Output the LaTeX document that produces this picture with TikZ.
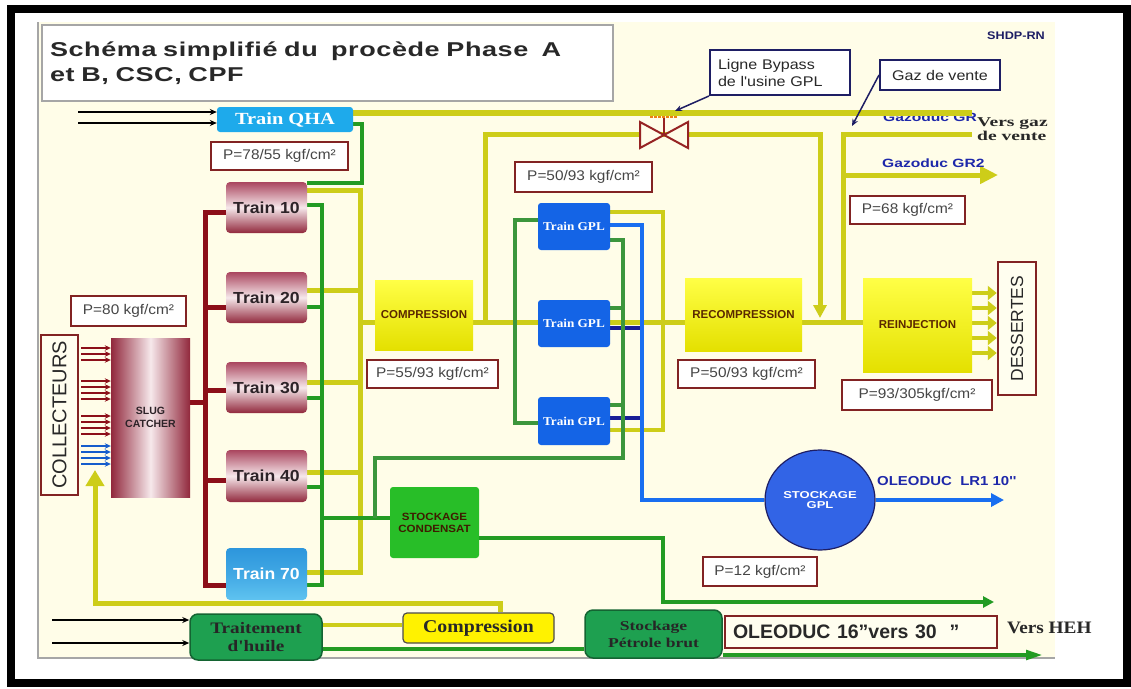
\documentclass[tikz,border=0pt]{standalone}
\usepackage{fontspec}
\setmainfont{Liberation Serif}
\setsansfont{Liberation Sans}
\newfontfamily\fTitle[FakeStretch=1.35,LetterSpace=3]{Liberation Sans}
\newfontfamily\fSansA[FakeStretch=1.1]{Liberation Sans}
\newfontfamily\fSansB[FakeStretch=1.15]{Liberation Sans}
\newfontfamily\fSansC[FakeStretch=1.3]{Liberation Sans}
\newfontfamily\fSerA[FakeStretch=1.1]{Liberation Serif}
\newfontfamily\fSerB[FakeStretch=1.2]{Liberation Serif}
\newfontfamily\fSerC[FakeStretch=1.3]{Liberation Serif}
\newfontfamily\fSerD[FakeStretch=1.45]{Liberation Serif}
\usetikzlibrary{arrows.meta,shapes.geometric}
\definecolor{cream}{RGB}{255,253,232}
\definecolor{yel}{RGB}{205,205,25}
\definecolor{grn}{RGB}{35,155,35}
\definecolor{grn2}{RGB}{60,150,60}
\definecolor{mar}{RGB}{140,15,25}
\definecolor{blu}{RGB}{25,110,240}
\definecolor{navy}{RGB}{25,30,150}
\definecolor{navytxt}{RGB}{30,40,170}
\definecolor{pbord}{RGB}{130,35,35}
\definecolor{ptext}{RGB}{70,70,70}
\definecolor{trtop}{RGB}{170,70,95}
\definecolor{trmid}{RGB}{246,232,235}
\definecolor{trbot}{RGB}{145,40,60}
\definecolor{trtext}{RGB}{45,35,40}
\definecolor{qhablue}{RGB}{30,170,235}
\definecolor{t70top}{RGB}{45,150,220}
\definecolor{t70bot}{RGB}{95,195,240}
\definecolor{ybtop}{RGB}{255,255,70}
\definecolor{ybbot}{RGB}{228,224,0}
\definecolor{ytxt}{RGB}{90,40,0}
\definecolor{gplblue}{RGB}{20,100,230}
\definecolor{condgrn}{RGB}{40,190,40}
\definecolor{oilgrn}{RGB}{30,160,80}
\definecolor{oilbord}{RGB}{20,100,50}
\definecolor{circblue}{RGB}{50,100,230}
\definecolor{valvec}{RGB}{150,35,35}
\definecolor{lblbord}{RGB}{30,30,100}
\definecolor{darktxt}{RGB}{40,40,40}
\pgfdeclarelayer{back}
\pgfdeclarelayer{lines}
\pgfsetlayers{back,lines,main}
\begin{document}
\begin{tikzpicture}[x=1pt,y=-1pt,
  yline/.style={draw=yel,line width=5pt},
  yline4/.style={draw=yel,line width=4pt},
  gline/.style={draw=grn,line width=4pt},
  gline2/.style={draw=grn2,line width=4pt},
  mline/.style={draw=mar,line width=5pt},
  bline/.style={draw=blu,line width=4pt},
  nline/.style={draw=navy,line width=4pt},
  blkarrow/.style={draw=black,line width=2.5pt,-{Stealth[length=7pt,width=6pt]}},
  marrow/.style={draw=mar,line width=2.4pt,-{Stealth[length=6pt,width=5.5pt]}},
  blarrow/.style={draw=blu!85!black,line width=2.4pt,-{Stealth[length=6pt,width=5.5pt]}},
  pbox/.style={draw=pbord,line width=2pt,fill=white,inner sep=0pt,text=ptext,font=\fSansA\fontsize{14}{16}\selectfont},
  trainbox/.style={rounded corners=4pt,top color=trtop,bottom color=trbot,middle color=trmid,minimum width=81pt,minimum height=51pt,inner sep=0pt,text=trtext,font=\fSansA\bfseries\fontsize{16}{19}\selectfont},
  ybox/.style={top color=ybtop,bottom color=ybbot,inner sep=0pt,text=ytxt,font=\sffamily\bfseries\fontsize{11.5}{13}\selectfont},
  gplbox/.style={rounded corners=3pt,fill=gplblue,minimum width=72pt,minimum height=47pt,inner sep=0pt,text=white,font=\fSerA\bfseries\fontsize{12}{14}\selectfont},
  oilbox/.style={rounded corners=8pt,fill=oilgrn,draw=oilbord,line width=1.5pt,inner sep=0pt,align=center,text=black!85},
  sidebox/.style={draw=pbord,line width=2.5pt,fill=cream!70!white,inner sep=0pt,rotate=90,text=darktxt},
  lblbox/.style={draw=lblbord,line width=2pt,fill=white,inner sep=0pt,text=darktxt,font=\fSansB\fontsize{14}{17}\selectfont}
]
\useasboundingbox (0,0) rectangle (1131,688);
% ---------- background ----------
\begin{pgfonlayer}{back}
\fill[white] (0,0) rectangle (1131,688);
\fill[cream] (38,22) rectangle (1055,658);
\draw[gray!70,line width=2.5pt] (38,22) -- (38,658) -- (1055,658);
\draw[black,line width=8pt] (11,8.5) rectangle (1126.5,683);
\node[anchor=base west,text=navytxt,font=\fSansC\bfseries\fontsize{12}{14}\selectfont,inner sep=0pt] (gr1) at (883,121) {Gazoduc GR};
\end{pgfonlayer}

% ---------- nodes ----------
\node[draw=gray!70,line width=1.5pt,fill=white,minimum width=571pt,minimum height=76pt,text width=555pt,align=left,inner sep=0pt,text=darktxt,font=\fTitle\bfseries\fontsize{20}{25}\selectfont] (title) at (327.5,63) {Schéma simplifié du\ \ procède Phase\ \ A\\et B, CSC, CPF};
\node[text=lblbord,font=\fSansB\bfseries\fontsize{11}{13}\selectfont,inner sep=0pt] (shdp) at (1016,36) {SHDP-RN};

\node[rounded corners=3pt,fill=qhablue,minimum width=136pt,minimum height=25pt,inner sep=0pt,text=white,font=\fSerB\bfseries\fontsize{17}{19}\selectfont] (qha) at (285,119.5) {Train QHA};
\node[pbox,minimum width=137pt,minimum height=28pt] (pqha) at (279.5,156) {P=78/55 kgf/cm²};

\node[trainbox] (t10) at (266.5,207.5) {Train 10};
\node[trainbox] (t20) at (266.5,297.5) {Train 20};
\node[trainbox] (t30) at (266.5,387.5) {Train 30};
\node[trainbox,minimum height=52pt] (t40) at (266.5,476) {Train 40};
\node[trainbox,minimum height=52pt,top color=t70top,bottom color=t70bot,middle color=t70top!60!t70bot,text=white] (t70) at (266.5,574) {Train 70};

\node[left color=trbot,right color=trbot,middle color=trmid,minimum width=79pt,minimum height=159pt,inner sep=0pt,align=center,text=trtext,font=\sffamily\bfseries\fontsize{10.5}{13}\selectfont] (slug) at (150.5,417.5) {SLUG\\CATCHER};
\node[sidebox,minimum width=160pt,minimum height=37pt,font=\sffamily\fontsize{20}{22}\selectfont] (coll) at (59.5,415) {COLLECTEURS};
\node[pbox,minimum width=115pt,minimum height=30pt] (p80) at (128.5,311) {P=80 kgf/cm²};

\node[ybox,minimum width=98pt,minimum height=70pt] (comp) at (424,315) {COMPRESSION};
\node[pbox,minimum width=131pt,minimum height=28pt] (p5593) at (432.5,374) {P=55/93 kgf/cm²};
\node[pbox,minimum width=137pt,minimum height=30pt] (p5093a) at (583.5,177) {P=50/93 kgf/cm²};

\node[gplbox] (gpl1) at (574,226.5) {Train GPL};
\node[gplbox] (gpl2) at (574,323.5) {Train GPL};
\node[gplbox,minimum height=48pt] (gpl3) at (574,421) {Train GPL};

\node[ybox,minimum width=117pt,minimum height=73pt] (recomp) at (743.5,314.5) {RECOMPRESSION};
\node[pbox,minimum width=137pt,minimum height=28pt] (p5093b) at (746.5,374) {P=50/93 kgf/cm²};
\node[ybox,minimum width=109pt,minimum height=94pt] (reinj) at (917.5,325) {REINJECTION};
\node[sidebox,minimum width=133pt,minimum height=38pt,font=\sffamily\fontsize{17.5}{20}\selectfont] (dess) at (1017,328.5) {DESSERTES};
\node[pbox,minimum width=150pt,minimum height=30pt] (p93) at (917,395) {P=93/305kgf/cm²};
\node[pbox,minimum width=115pt,minimum height=28pt] (p68) at (907.5,210) {P=68 kgf/cm²};

\node[lblbox,minimum width=140pt,minimum height=45pt,text width=124pt,align=left] (bypass) at (780,72.5) {Ligne Bypass\\de l'usine GPL};
\node[lblbox,minimum width=120pt,minimum height=30pt] (gaz) at (940,75) {Gaz de vente};

\node[anchor=north west,align=left,inner sep=0pt,text=darktxt,font=\fSerD\bfseries\fontsize{13.5}{14.5}\selectfont] (versgaz) at (977,117) {Vers gaz\\de vente};
\node[anchor=base west,text=navytxt,font=\fSansC\bfseries\fontsize{12}{14}\selectfont,inner sep=0pt] (gr2) at (882,167) {Gazoduc GR2};

\node[fill=condgrn,rounded corners=3pt,minimum width=89pt,minimum height=71pt,inner sep=0pt,align=center,text=ytxt!70!black,font=\fSansA\bfseries\fontsize{10.5}{12}\selectfont] (stcond) at (434.5,522.5) {STOCKAGE\\CONDENSAT};
\node[ellipse,fill=circblue,draw=lblbord,line width=1.2pt,minimum width=110pt,minimum height=100pt,inner sep=0pt,align=center,text=white,font=\fSansC\bfseries\fontsize{10}{10}\selectfont] (stgpl) at (820,500) {STOCKAGE\\GPL};
\node[anchor=base west,text=navytxt,font=\fSansB\bfseries\fontsize{13}{15}\selectfont,inner sep=0pt] (lr1) at (877,485) {OLEODUC\ \ LR1 10''};
\node[pbox,minimum width=114pt,minimum height=29pt] (p12) at (760,571.5) {P=12 kgf/cm²};

\node[oilbox,minimum width=132pt,minimum height=46pt,font=\fSerB\bfseries\fontsize{16}{18}\selectfont] (trait) at (256,637) {Traitement\\d'huile};
\node[rounded corners=4pt,fill=yellow,draw=black!70,line width=1.2pt,minimum width=151pt,minimum height=30pt,inner sep=0pt,text=darktxt,font=\fSerA\bfseries\fontsize{18}{20}\selectfont] (compb) at (478.5,628) {Compression};
\node[oilbox,minimum width=137pt,minimum height=48pt,font=\fSerC\bfseries\fontsize{13.5}{17}\selectfont] (stpet) at (653.5,634) {Stockage\\Pétrole brut};
\node[draw=pbord,line width=2.5pt,fill=cream!70!white,minimum width=272pt,minimum height=32pt,text width=256pt,align=left,inner sep=0pt,text=darktxt,font=\sffamily\bfseries\fontsize{19.5}{22}\selectfont] (oleo) at (861,632) {OLEODUC 16''vers 30\ \ ''};
\node[anchor=west,inner sep=0pt,text=darktxt,font=\fSerA\bfseries\fontsize{17.5}{20}\selectfont] (heh) at (1007,628) {Vers HEH};

% valve
\coordinate (valve) at (664,135);
\coordinate (valvetop) at (675,111);
\draw[draw=valvec,line width=2pt,fill=cream] (640,122) -- (640,148) -- (688,122) -- (688,148) -- cycle;
\draw[valvec,line width=2pt] (valve) -- (664,118);
\draw[draw=orange!70!brown,line width=2.5pt,dash pattern=on 3pt off 1pt] (650,117) -- (678,117);
\coordinate (gvtip) at (852,126);
\draw[lblbord,line width=1.5pt,-{Stealth[length=7pt,width=6pt]}] (bypass.south west) -- (valvetop);
\draw[lblbord,line width=1.5pt,-{Stealth[length=7pt,width=6pt]}] (gaz.west) -- (gvtip);

% ---------- connectors ----------
\begin{pgfonlayer}{lines}
% inlets QHA
\coordinate (inA) at (78,112);
\coordinate (inB) at (78,123);
\draw[blkarrow] (inA) -- (qha.west |- inA);
\draw[blkarrow] (inB) -- (qha.west |- inB);
% top yellow line GR1
\coordinate (gr1end) at (972,113);
\draw[yline,line width=5.5pt] (qha.east |- gr1end) -- (gr1end);
% QHA green
\draw[gline] (qha.east |- 0,124) -- (362,124) -- (362,183) -- (t10.east |- 0,183);
% yellow bus of trains
\draw[yline] (t10.east |- 0,190) -- (360,190) -- (360,572) -- (t70.east |- 0,572);
\draw[yline] (t20.east |- 0,290) -- (360,290);
\draw[yline] (t30.east |- 0,382) -- (360,382);
\draw[yline] (t40.east |- 0,472) -- (360,472);
\draw[yline] (360,322) -- (comp.west |- 0,322);
% green bus of trains
\draw[gline] (t10.east |- 0,205) -- (322,205) -- (322,585) -- (t70.east |- 0,585);
\draw[gline] (t20.east |- 0,307) -- (322,307);
\draw[gline] (t30.east |- 0,398) -- (322,398);
\draw[gline] (t40.east |- 0,487) -- (322,487);
\draw[gline] (322,518) -- (stcond.west |- 0,518);
% maroon bus
\draw[mline] (slug.east |- 0,402) -- (205,402);
\draw[mline] (t10.west |- 0,212) -- (205,212) -- (205,585) -- (t70.west |- 0,585);
\draw[mline] (t20.west |- 0,307) -- (205,307);
\draw[mline] (t30.west |- 0,390) -- (205,390);
\draw[mline] (t40.west |- 0,480) -- (205,480);
% collecteurs arrows
\foreach \yy in {348,354,360,381,387,393,399,416,422,428,434}
  \draw[marrow] ([xshift=2pt]coll.south |- 0,\yy) -- (slug.west |- 0,\yy);
\foreach \yy in {446,452,458,464}
  \draw[blarrow] ([xshift=2pt]coll.south |- 0,\yy) -- (slug.west |- 0,\yy);
% main yellow line
\draw[yline] (comp.east |- 0,322) -- (recomp.west |- 0,322);
\draw[yline] (recomp.east |- 0,322) -- (reinj.west |- 0,322);
% bypass line through valve
\coordinate (bp4) at (820,318);
\draw[yline,-{Triangle[length=13pt,width=13pt]}] (485,322) -- (485,134) -- (820,134) -- (bp4);
% gaz de vente lines
\coordinate (gvend) at (972,134);
\coordinate (gr2end) at (998,175);
\draw[yline] (843,322) -- (843,134) -- (gvend);
\draw[yline,-{Triangle[length=18pt,width=17pt]}] (843,175) -- (gr2end);
% dessertes arrows
\foreach \yy in {293,308,323,338,353}
  \draw[yline4,-{Triangle[length=9pt,width=14pt]}] (reinj.east |- 0,\yy) -- (dess.north |- 0,\yy);
% GPL trains
\draw[yline4] (gpl1.east |- 0,212) -- (663,212) -- (663,430) -- (gpl3.east |- 0,430);
\draw[nline] (gpl2.east |- 0,328) -- (642,328);
\draw[nline] (gpl3.east |- 0,418) -- (642,418);
\draw[gline2] (gpl1.east |- 0,240) -- (623,240) -- (623,458) -- (375,458) -- (375,518);
\draw[gline2] (gpl2.east |- 0,308) -- (623,308);
\draw[gline2] (gpl3.east |- 0,405) -- (623,405);
\draw[gline2] (gpl1.west |- 0,220) -- (515,220) -- (515,423) -- (gpl3.west |- 0,423);
\draw[bline] (gpl1.east |- 0,225) -- (642,225) -- (642,500) -- (stgpl.west);
\coordinate (lr1end) at (1004,500);
\draw[bline,-{Triangle[length=13pt,width=13pt]}] (stgpl.east) -- (lr1end);
% condensat
\coordinate (condend) at (994,602);
\draw[gline,-{Triangle[length=11pt,width=11pt]}] (stcond.east |- 0,538) -- (663,538) -- (663,602) -- (condend);
% bottom
\coordinate (inC) at (52,620);
\coordinate (inD) at (52,643);
\draw[blkarrow] (inC) -- (trait.west |- inC);
\draw[blkarrow] (inD) -- (trait.west |- inD);
\draw[yline4] (trait.east |- 0,625) -- (compb.west |- 0,625);
\coordinate (rettip) at (95,470);
\draw[yline,-{Triangle[length=16pt,width=18pt]}] (compb.north -| 500,0) -- (500,603) -- (95,603) -- (rettip);
\draw[gline] (trait.east |- 0,649) -- (stpet.west |- 0,649);
\coordinate (hehend) at (1044,655);
\draw[gline,line width=4.5pt,-{Triangle[length=18pt,width=9pt]}] (stpet.east |- 0,655) -- (hehend);
\end{pgfonlayer}
\end{tikzpicture}
\end{document}
